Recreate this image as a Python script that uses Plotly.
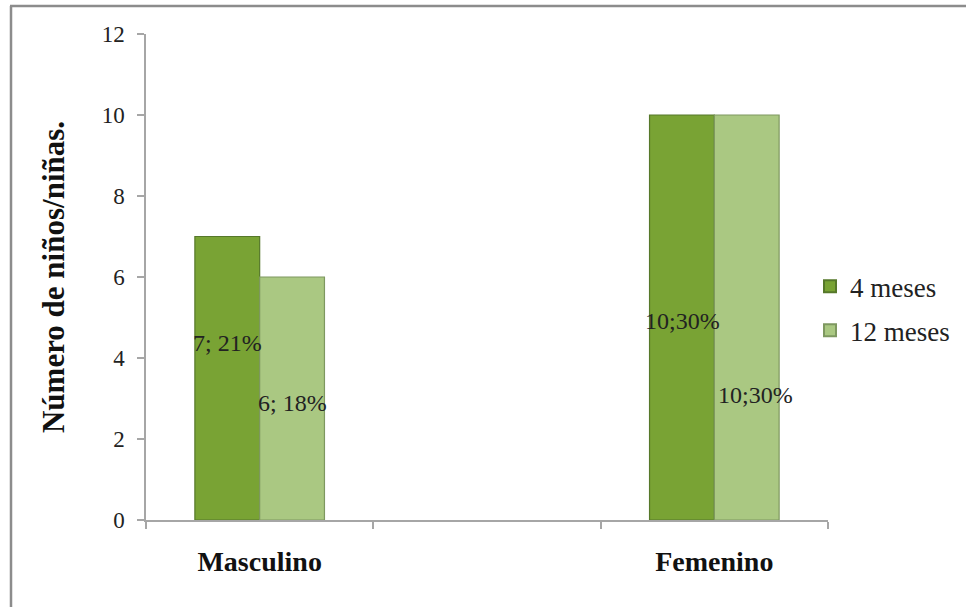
import plotly.graph_objects as go

# Categories (the middle slot is an empty spacer category)
categories = ["Masculino", " ", "Femenino"]
series_names = ["4 meses", "12 meses"]
counts_4m = [7, None, 10]
counts_12m = [6, None, 10]
pct_4m = [21, None, 30]
pct_12m = [18, None, 30]
y_ticks = [0, 2, 4, 6, 8, 10, 12]

SERIF = "Liberation Serif"
GREEN_DARK = "#79A334"
GREEN_LIGHT = "#AAC882"

fig = go.Figure()
fig.add_trace(go.Bar(
    name=series_names[0], x=categories, y=counts_4m, legendgroup="a",
    marker=dict(color=GREEN_DARK, line=dict(color="#56782A", width=1.2)),
))
fig.add_trace(go.Bar(
    name=series_names[1], x=categories, y=counts_12m, legendgroup="b",
    marker=dict(color=GREEN_LIGHT, line=dict(color="#7E9860", width=1.2)),
))

# data labels "n; pct%" placed inside the bars
bar_half = 0.1425
label_specs = [
    # (series values, percents, side offset, y position, separator, x pixel shift)
    (counts_4m, pct_4m, -bar_half, [4.37, None, 4.91], ["; ", None, ";"], [0, None, 1]),
    (counts_12m, pct_12m, bar_half, [2.89, None, 3.09], ["; ", None, ";"], [0, None, 9]),
]
annotations = []
for vals, pcts, off, ys, seps, shifts in label_specs:
    for i, v in enumerate(vals):
        if v is None:
            continue
        annotations.append(dict(
            x=i + off, y=ys[i], xref="x", yref="y",
            text=f"{v}{seps[i]}{pcts[i]}%", showarrow=False,
            xshift=shifts[i],
            font=dict(family=SERIF, size=24, color="#222222"),
        ))

# chart frame (top and left edges)
px_w, px_h = 682, 486
def px_x(p):
    return (p - 146) / px_w
def px_y(p):
    return (520 - p) / px_h

shapes = [
    dict(type="line", xref="paper", yref="paper",
         x0=px_x(10), x1=px_x(975), y0=px_y(6), y1=px_y(6),
         line=dict(color="#8C8C8C", width=2.5)),
    dict(type="line", xref="paper", yref="paper",
         x0=px_x(11), x1=px_x(11), y0=px_y(6), y1=px_y(615),
         line=dict(color="#8C8C8C", width=2.5)),
]

fig.update_layout(
    width=966, height=607,
    margin=dict(l=146, r=138, t=34, b=87, autoexpand=False),
    paper_bgcolor="white", plot_bgcolor="white",
    barmode="group", bargap=0.43, bargroupgap=0,
    font=dict(family=SERIF, color="#222222"),
    showlegend=True,
    legend=dict(
        x=px_x(810), xanchor="left", y=0.435, yanchor="middle",
        font=dict(family=SERIF, size=27, color="#222222"),
        itemsizing="constant", tracegroupgap=6, itemwidth=30,
    ),
    annotations=annotations,
    shapes=shapes,
    xaxis=dict(
        type="category", categoryorder="array", categoryarray=categories,
        range=[-0.5, 2.5],
        showline=True, linecolor="#A6A6A6", linewidth=1.5,
        ticks="outside", ticklen=7, tickcolor="#A6A6A6", tickwidth=1.5,
        tickson="boundaries",
        tickfont=dict(family=SERIF, size=28, color="#111111", weight="bold"),
        ticklabelstandoff=16,
        showgrid=False, zeroline=False,
    ),
    yaxis=dict(
        range=[0, 12], tickvals=y_ticks,
        showline=True, linecolor="#A6A6A6", linewidth=1.5,
        ticks="outside", ticklen=7, tickcolor="#A6A6A6", tickwidth=1.5,
        tickfont=dict(family=SERIF, size=23, color="#222222"),
        ticklabelstandoff=8,
        showgrid=False, zeroline=False,
        title=dict(text="Número de niños/niñas.", standoff=28,
                   font=dict(family=SERIF, size=31, color="#111111", weight="bold")),
    ),
)

fig.write_html("out.html")
